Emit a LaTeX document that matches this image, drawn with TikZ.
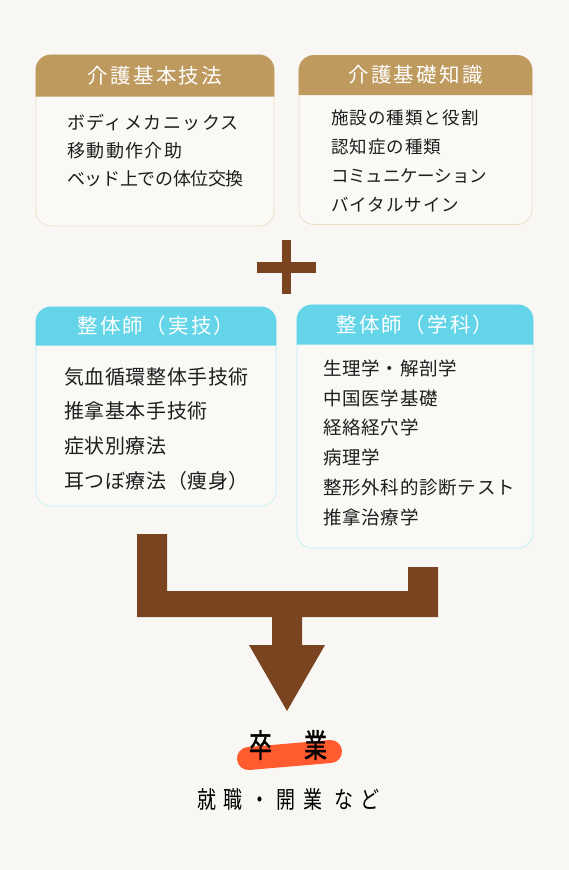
\documentclass[tikz,border=0pt]{standalone}
\usepackage{fontspec}
\setmainfont{Noto Sans CJK JP}
\usepackage{tikz}
\definecolor{bgcol}{HTML}{F9F7F3}
\definecolor{boxfill}{HTML}{FAF9F6}
\definecolor{tanhead}{HTML}{BF9A5F}
\definecolor{tanline}{HTML}{E9DCC4}
\definecolor{cyanhead}{HTML}{64D5E8}
\definecolor{cyanline}{HTML}{BFEFF6}
\definecolor{arrowbrown}{HTML}{7B4421}
\definecolor{inkcol}{HTML}{1E1E1E}
\definecolor{brushred}{HTML}{FF5B2E}
\tikzstyle{panel} = [rectangle, rounded corners=15pt, minimum width=238pt, minimum height=171pt, inner sep=0pt, line width=0.7pt, fill=boxfill]
\tikzstyle{kaigo} = [panel, draw=tanline]
\tikzstyle{seitai} = [panel, draw=cyanline]
\tikzstyle{headtext} = [text=white, inner sep=0pt, font=\fontsize{20.5}{24}\selectfont\addfontfeatures{LetterSpace=11}]
\tikzstyle{bodytext} = [anchor=north west, align=left, inner sep=0pt, text=inkcol]
\tikzstyle{brush} = [draw=brushred, line width=23pt, line cap=round]

\begin{document}
\begin{tikzpicture}[x=1pt, y=-1pt]
\fill[bgcol] (0,0) rectangle (569,870);
\useasboundingbox (0,0) rectangle (569,870);

% kaigo boxes
\node (kihon) [kaigo] at (155,140.5) {};
\node (kiso) [kaigo, minimum width=233pt, minimum height=169pt] at (415.5,140) {};
\fill[tanhead] ([yshift=-42pt]kihon.north west) [rounded corners=15pt] -- (kihon.north west) -- (kihon.north east) [sharp corners] -- ([yshift=-42pt]kihon.north east) -- cycle;
\fill[tanhead] ([yshift=-40pt]kiso.north west) [rounded corners=15pt] -- (kiso.north west) -- (kiso.north east) [sharp corners] -- ([yshift=-40pt]kiso.north east) -- cycle;
\node (kihonttl) [headtext] at ([yshift=-21pt]kihon.north) {介護基本技法};
\node (kisottl) [headtext] at ([yshift=-20pt]kiso.north) {介護基礎知識};
\node (kihonlist) [bodytext, font=\fontsize{18}{28}\selectfont\addfontfeatures{LetterSpace=8}] at (67,114) {ボディメカニックス\\移動動作介助\\{\addfontfeatures{LetterSpace=-2}ベッド上での体位交換}};
\node (kisolist) [bodytext, font=\fontsize{17.5}{28.7}\selectfont\addfontfeatures{LetterSpace=6}] at (331,110) {施設の種類と役割\\認知症の種類\\{\addfontfeatures{LetterSpace=-1}コミュニケーション}\\バイタルサイン};

% plus
\fill[arrowbrown] (282,240) rectangle (291,294);
\fill[arrowbrown] (257,262) rectangle (316,273);

% seitai boxes
\node (jitsugi) [seitai, minimum width=240pt, minimum height=199pt] at (156,406.5) {};
\node (gakka) [seitai, minimum width=236pt, minimum height=243pt] at (415,426.5) {};
\fill[cyanhead] ([yshift=-39pt]jitsugi.north west) [rounded corners=15pt] -- (jitsugi.north west) -- (jitsugi.north east) [sharp corners] -- ([yshift=-39pt]jitsugi.north east) -- cycle;
\fill[cyanhead] ([yshift=-40pt]gakka.north west) [rounded corners=15pt] -- (gakka.north west) -- (gakka.north east) [sharp corners] -- ([yshift=-40pt]gakka.north east) -- cycle;
\node (jitsugittl) [headtext] at ([yshift=-19.5pt]jitsugi.north) {整体師（実技）};
\node (gakkattl) [headtext] at ([yshift=-20pt]gakka.north) {整体師（学科）};
\node (jitsugilist) [bodytext, font=\fontsize{20}{34.7}\selectfont\addfontfeatures{LetterSpace=3}] at (64,367) {気血循環整体手技術\\推拿基本手技術\\症状別療法\\耳つぼ療法（痩身）};
\node (gakkalist) [bodytext, font=\fontsize{18.5}{29.8}\selectfont\addfontfeatures{LetterSpace=4}] at (323,359.5) {生理学・解剖学\\中国医学基礎\\経絡経穴学\\病理学\\整形外科的診断テスト\\推拿治療学};

% arrow
\fill[arrowbrown] (137,534) -- (167,534) -- (167,591) -- (408,591) -- (408,567) -- (438,567) -- (438,617) -- (302,617) -- (302,645) -- (325,645) -- (287,711) -- (249,645) -- (272,645) -- (272,617) -- (137,617) -- cycle;

% goal
\draw[brush] (248.5,758.5) -- (330.5,751.5);
\node (sotsugyo) [font=\fontsize{23}{26}\selectfont\addfontfeatures{FakeBold=1.2}, text=black] at (288,745) {\scalebox{1}[1.4]{卒\hspace{32pt}業}};
\node (shinro) [font=\fontsize{19}{22}\selectfont\addfontfeatures{LetterSpace=40}, text=black] at (288.5,799) {\scalebox{1}[1.25]{就職・開業 など}};
\end{tikzpicture}
\end{document}
